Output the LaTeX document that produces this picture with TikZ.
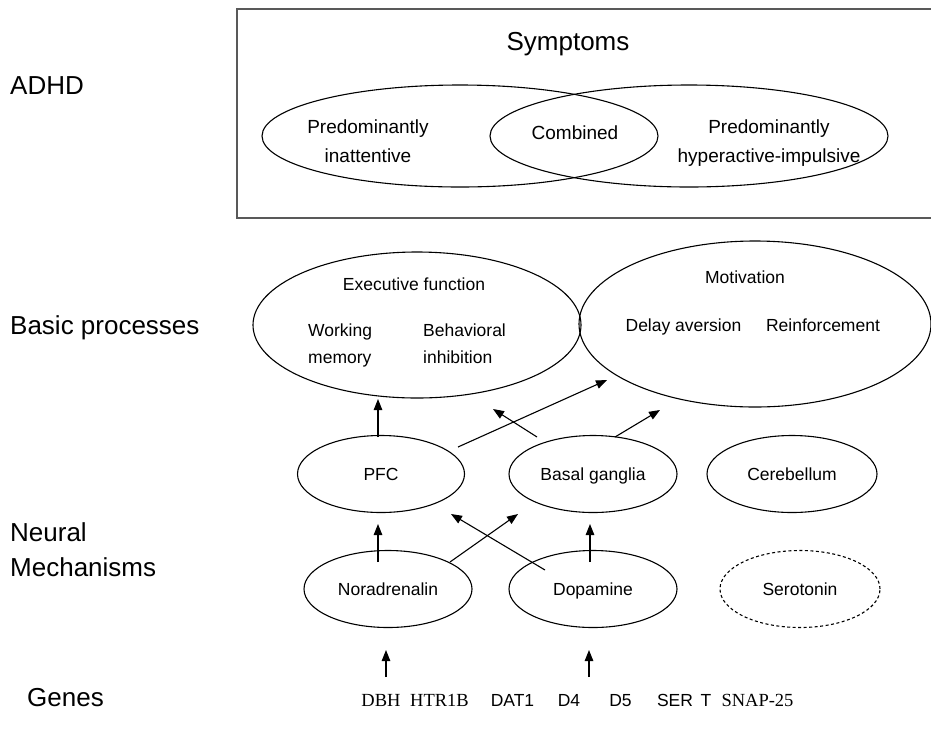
\documentclass[tikz,border=0pt]{standalone}
\usepackage{fontspec}
\setmainfont{Liberation Sans}
\newfontfamily\genserif{Liberation Serif}
\usetikzlibrary{shapes.geometric,arrows.meta,calc}
\begin{document}
\begin{tikzpicture}[x=1pt,y=-1pt,
  ell/.style={draw, ellipse, inner sep=0pt, line width=1.1pt, font=\fontsize{17.5}{20}\selectfont, text height=12.5pt, text depth=0pt},
  dashell/.style={ell, dash pattern=on 3pt off 2.5pt},
  arr/.style={-{Triangle[length=11pt,width=8.5pt]}, line width=1.1pt},
  lab/.style={anchor=base west, inner sep=0pt, font=\fontsize{26}{30}\selectfont},
  symtxt/.style={anchor=base, inner sep=0pt, font=\fontsize{19}{22}\selectfont},
  bptxt/.style={anchor=base, inner sep=0pt, font=\fontsize{17.5}{20}\selectfont},
  bpleft/.style={anchor=base west, inner sep=0pt, font=\fontsize{17.5}{20}\selectfont},
  genesans/.style={anchor=base, inner sep=0pt, font=\fontsize{17.5}{20}\selectfont},
  geneserif/.style={anchor=base, inner sep=0pt, font=\fontsize{18.5}{20}\genserif}
]
\useasboundingbox (0,0) rectangle (931,729);

% left labels
\node[lab] (lADHD) at (10,94) {ADHD};
\node[lab] (lBasic) at (10,334) {Basic processes};
\node[lab] (lNeural) at (10,541) {Neural};
\node[lab] (lMech) at (10,576) {Mechanisms};
\node[lab] (lGenes) at (27,706) {Genes};

% symptoms box (right edge runs past the picture border)
\node[draw=black!65, line width=1.5pt, minimum width=700pt, minimum height=209pt, inner sep=0pt] (box) at (587,113.5) {};
\node[anchor=base, inner sep=0pt, font=\fontsize{26}{30}\selectfont] (symp) at (568,50) {Symptoms};
\node[ell, minimum width=396pt, minimum height=102pt] (inatt) at (460,136) {};
\node[ell, minimum width=398pt, minimum height=102pt] (hyper) at (689,136) {};
\node[symtxt] (t1a) at (368,133) {Predominantly};
\node[symtxt] (t1b) at (368,162) {inattentive};
\node[symtxt] (comb) at (575,139) {Combined};
\node[symtxt] (t2a) at (769,133) {Predominantly};
\node[symtxt] (t2b) at (769,162) {hyperactive-impulsive};

% basic processes
\node[ell, minimum width=328pt, minimum height=146pt] (exec) at (417,325) {};
\node[ell, minimum width=352pt, minimum height=166pt] (mot) at (755,324) {};
\node[bptxt] (execT) at (414,290) {Executive function};
\node[bpleft] (wm1) at (308,336) {Working};
\node[bpleft] (wm2) at (308,363) {memory};
\node[bpleft] (bi1) at (423,336) {Behavioral};
\node[bpleft] (bi2) at (423,363) {inhibition};
\node[bptxt] (motT) at (745,283) {Motivation};
\node[bptxt] (delay) at (683.5,331) {Delay aversion};
\node[bptxt] (reinf) at (823,331) {Reinforcement};

% neural mechanisms
\node[ell, minimum width=167pt, minimum height=77pt] (pfc) at (381,474) {PFC};
\node[ell, minimum width=168pt, minimum height=77pt] (bg) at (593,474) {Basal ganglia};
\node[ell, minimum width=170pt, minimum height=77pt] (cer) at (792,474) {Cerebellum};
\node[ell, minimum width=168pt, minimum height=77pt] (nor) at (388,589) {Noradrenalin};
\node[ell, minimum width=168pt, minimum height=77pt] (dop) at (593,589) {Dopamine};
\node[dashell, minimum width=160pt, minimum height=77pt] (ser) at (800,589) {Serotonin};

% arrows
\draw[arr] ($(pfc.center)+(-3,-37)$) -- ($(exec.center)+(-39,74)$);
\draw[arr] ($(pfc.center)+(77,-27)$) -- ($(mot.center)+(-148,56)$);
\draw[arr] ($(bg.center)+(-56,-37)$) -- ($(exec.center)+(76,84)$);
\draw[arr] ($(bg.center)+(22,-37)$) -- ($(mot.center)+(-95,86)$);
\draw[arr] ($(nor.center)+(-10,-27)$) -- ($(pfc.center)+(-3,50)$);
\draw[arr] ($(nor.center)+(62,-27)$) -- ($(bg.center)+(-75,40)$);
\draw[arr] ($(dop.center)+(-48,-19)$) -- ($(pfc.center)+(70,40)$);
\draw[arr] ($(dop.center)+(-3,-27)$) -- ($(bg.center)+(-3,50)$);

% genes
\coordinate (g1) at (386,677);
\coordinate (g2) at (589,677);
\draw[arr] (g1) -- ($(nor.center)+(-2,61)$);
\draw[arr] (g2) -- ($(dop.center)+(-4,61)$);
\node[geneserif] (dbh) at (381,706) {DBH};
\node[geneserif] (htr) at (439.5,706) {HTR1B};
\node[genesans] (dat) at (512.5,706) {DAT1};
\node[genesans] (d4) at (569,706) {D4};
\node[genesans] (d5) at (620.5,706) {D5};
\node[genesans] (sert) at (675,706) {SER};
\node[genesans] (tt) at (706,706) {T};
\node[geneserif] (snap) at (757.5,706) {SNAP-25};
\end{tikzpicture}
\end{document}
